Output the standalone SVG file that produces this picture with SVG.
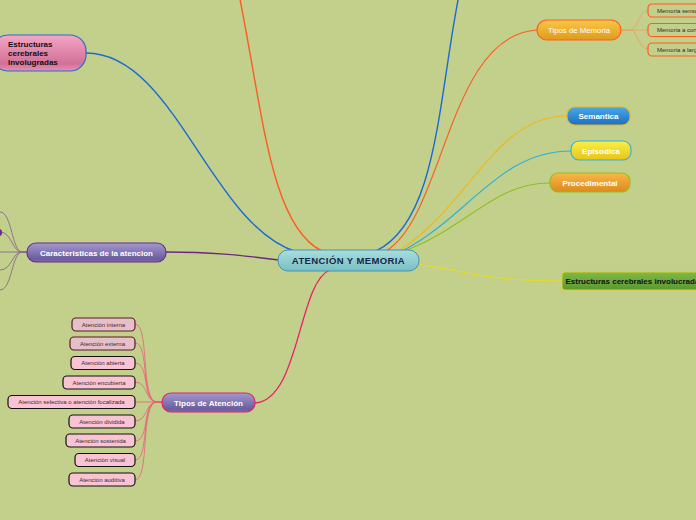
<svg xmlns="http://www.w3.org/2000/svg" width="696" height="520" viewBox="0 0 696 520">
<defs>
<linearGradient id="gTeal" x1="0" y1="0" x2="0" y2="1"><stop offset="0" stop-color="#a8dede"/><stop offset="1" stop-color="#78bfc2"/></linearGradient>
<linearGradient id="gPink" x1="0" y1="0" x2="0" y2="1"><stop offset="0" stop-color="#f4a6c6"/><stop offset="0.8" stop-color="#d27096"/><stop offset="1" stop-color="#e890b0"/></linearGradient>
<linearGradient id="gPurple" x1="0" y1="0" x2="0" y2="1"><stop offset="0" stop-color="#a498d0"/><stop offset="0.85" stop-color="#6c5c9e"/><stop offset="1" stop-color="#8070b0"/></linearGradient>
<linearGradient id="gOrange" x1="0" y1="0" x2="0" y2="1"><stop offset="0" stop-color="#f8c848"/><stop offset="1" stop-color="#e09a1c"/></linearGradient>
<linearGradient id="gBlue" x1="0" y1="0" x2="0" y2="1"><stop offset="0" stop-color="#4aa8e8"/><stop offset="1" stop-color="#1a70c0"/></linearGradient>
<linearGradient id="gYellow" x1="0" y1="0" x2="0" y2="1"><stop offset="0" stop-color="#f8f048"/><stop offset="1" stop-color="#e8c418"/></linearGradient>
<linearGradient id="gOrange2" x1="0" y1="0" x2="0" y2="1"><stop offset="0" stop-color="#f8b848"/><stop offset="1" stop-color="#dc8a1c"/></linearGradient>
<linearGradient id="gGreen" x1="0" y1="0" x2="0" y2="1"><stop offset="0" stop-color="#80b848"/><stop offset="1" stop-color="#5a9830"/></linearGradient>
</defs>
<style>
text{font-family:"Liberation Sans",Arial,sans-serif}
.b{font-weight:bold}
.w{fill:#ffffff}
.k{fill:#111111}
.sm{font-size:6px;fill:#3a2a2a}
.c{fill:none}
.child{fill:#f9c3d3;stroke:#111;stroke-width:1.2}
.child2{fill:#e6c0c8;stroke:#5a1828;stroke-width:1.2}
.mem{fill:#c2d08b;stroke:#ff5a22;stroke-width:1.2}
</style>
<rect width="696" height="520" fill="#c2d08b"/>
<g id="connectors" class="c">
<path d="M86,53 C175,53 210,225 297,252" stroke="#1a6ad8" stroke-width="1.4"/>
<path d="M236,-20 C262,100 268,225 322,251" stroke="#ff5a22" stroke-width="1.4"/>
<path d="M462,-20 C438,90 440,220 376,251" stroke="#1a6ad8" stroke-width="1.4"/>
<path d="M386,251 C445,215 448,35 537,30" stroke="#ff5a22" stroke-width="1.1"/>
<path d="M400,250 C470,205 495,116 567,116" stroke="#f0b818" stroke-width="1.2"/>
<path d="M404,250 C470,215 500,151 571,151" stroke="#28b0e0" stroke-width="1.1"/>
<path d="M407,250 C470,225 495,183 550,183" stroke="#8cc020" stroke-width="1.1"/>
<path d="M419,264 C480,276 505,281 562,281" stroke="#e8dc20" stroke-width="1.1"/>
<path d="M166,252 C210,252 240,255 279,260" stroke="#6a2a7a" stroke-width="1.3"/>
<path d="M255,403 C300,400 298,282 330,270" stroke="#e8206a" stroke-width="1.3"/>
<g stroke="#f0a060" stroke-width="0.9">
<path d="M621,30 L630,30 C638,30 638,11 648,11"/>
<path d="M621,30 L648,30"/>
<path d="M621,30 L630,30 C638,30 638,49 648,49"/>
</g>
<g stroke="#8a6a8a" stroke-width="0.9">
<path d="M27,252 L22,252 C12,252 12,212 0,212"/>
<path d="M27,252 L22,252 C12,252 12,232 0,232"/>
<path d="M27,252 L0,252"/>
<path d="M27,252 L22,252 C12,252 12,270 0,270"/>
<path d="M27,252 L22,252 C12,252 12,290 0,290"/>
</g>
<g stroke="#e8607a" stroke-width="0.8">
<path d="M162,402 L157,402 C140,402 150,324 135,324"/>
<path d="M162,402 L157,402 C140,402 150,343 135,343"/>
<path d="M162,402 L157,402 C142,402 150,363 135,363"/>
<path d="M162,402 L157,402 C145,402 148,382 135,382"/>
<path d="M162,402 L135,402"/>
<path d="M162,402 L157,402 C145,402 148,421 135,421"/>
<path d="M162,402 L157,402 C142,402 150,441 135,441"/>
<path d="M162,402 L157,402 C140,402 150,460 135,460"/>
<path d="M162,402 L157,402 C140,402 150,480 135,480"/>
</g>
</g>
<g id="center">
<rect x="278" y="250" width="141" height="21" rx="10" fill="url(#gTeal)" stroke="#4a90b4" stroke-width="1"/>
<text x="348.5" y="264.3" text-anchor="middle" class="b" font-size="9.5" fill="#16264a" letter-spacing="0.4">ATENCIÓN Y MEMORIA</text>
</g>
<g id="estructuras-izq">
<rect x="-8" y="35" width="94" height="36" rx="16" fill="url(#gPink)" stroke="#2a6ad0" stroke-width="1.2"/>
<text class="b k" font-size="8"><tspan x="8" y="47">Estructuras</tspan><tspan x="8" y="56">cerebrales</tspan><tspan x="8" y="65">Involugradas</tspan></text>
</g>
<g id="tipos-memoria">
<rect x="537" y="20" width="84" height="20" rx="10" fill="url(#gOrange)" stroke="#ff6020" stroke-width="1.2"/>
<text x="579" y="32.8" text-anchor="middle" class="w" font-size="7.8">Tipos de Memoria</text>
</g>
<g id="mem-sensorial"><rect x="648" y="4" width="70" height="13" rx="4" class="mem"/><text x="657" y="12.6" class="sm">Memoria sensorial</text></g>
<g id="mem-corto"><rect x="648" y="23.5" width="80" height="13" rx="4" class="mem"/><text x="657" y="32.1" class="sm">Memoria a corto plazo</text></g>
<g id="mem-largo"><rect x="648" y="43" width="80" height="13" rx="4" class="mem"/><text x="657" y="51.6" class="sm">Memoria a largo plazo</text></g>
<g id="semantica">
<rect x="567" y="107" width="63" height="18" rx="8" fill="url(#gBlue)" stroke="#f0b020" stroke-width="1.1"/>
<text x="598.5" y="119" text-anchor="middle" class="b w" font-size="8">Semantica</text>
</g>
<g id="episodica">
<rect x="571" y="141" width="60" height="19" rx="8" fill="url(#gYellow)" stroke="#30b0e0" stroke-width="1.1"/>
<text x="601" y="153.5" text-anchor="middle" class="b w" font-size="8">Episodica</text>
</g>
<g id="procedimental">
<rect x="550" y="173" width="80" height="19" rx="8" fill="url(#gOrange2)" stroke="#90c020" stroke-width="1.1"/>
<text x="590" y="185.8" text-anchor="middle" class="b w" font-size="8">Procedimental</text>
</g>
<g id="estructuras-der">
<rect x="562" y="272" width="160" height="18" rx="3" fill="url(#gGreen)" stroke="#e0d020" stroke-width="1"/>
<text x="565.5" y="284.3" class="b k" font-size="8">Estructuras cerebrales involucradas</text>
</g>
<g id="caracteristicas">
<rect x="27" y="243" width="139" height="19" rx="9" fill="url(#gPurple)" stroke="#6a2a8a" stroke-width="1.1"/>
<text x="96.5" y="255.8" text-anchor="middle" class="b w" font-size="8">Caracteristicas de la atencion</text>
</g>
<g id="car-hijo-2"><rect x="-20" y="229" width="22" height="7" rx="3" fill="#6a2a8a"/></g>
<g id="tipos-atencion">
<rect x="162" y="393" width="93" height="19" rx="9" fill="url(#gPurple)" stroke="#e0206a" stroke-width="1.1"/>
<text x="208.5" y="405.8" text-anchor="middle" class="b w" font-size="8">Tipos de Atención</text>
</g>
<g id="at-interna"><rect x="72" y="318" width="63" height="13" rx="4" class="child2"/><text x="103.5" y="326.6" text-anchor="middle" class="sm">Atención interna</text></g>
<g id="at-externa"><rect x="70" y="337" width="65" height="13" rx="4" class="child2"/><text x="102.5" y="345.6" text-anchor="middle" class="sm">Atención externa</text></g>
<g id="at-abierta"><rect x="71" y="356.5" width="64" height="13" rx="4" class="child"/><text x="103" y="365.1" text-anchor="middle" class="sm">Atención abierta</text></g>
<g id="at-encubierta"><rect x="63" y="376" width="72" height="13" rx="4" class="child"/><text x="99" y="384.6" text-anchor="middle" class="sm">Atención encubierta</text></g>
<g id="at-selectiva"><rect x="8" y="395.5" width="127" height="13" rx="4" class="child"/><text x="71.5" y="404.1" text-anchor="middle" class="sm">Atención selectiva o atención focalizada</text></g>
<g id="at-dividida"><rect x="69" y="415" width="66" height="13" rx="4" class="child"/><text x="102" y="423.6" text-anchor="middle" class="sm">Atención dividida</text></g>
<g id="at-sostenida"><rect x="66" y="434" width="69" height="13" rx="4" class="child"/><text x="100.5" y="442.6" text-anchor="middle" class="sm">Atención sostenida</text></g>
<g id="at-visual"><rect x="75" y="453.5" width="60" height="13" rx="4" class="child"/><text x="105" y="462.1" text-anchor="middle" class="sm">Atención visual</text></g>
<g id="at-auditiva"><rect x="69" y="473" width="66" height="13" rx="4" class="child"/><text x="102" y="481.6" text-anchor="middle" class="sm">Atención auditiva</text></g>
</svg>
